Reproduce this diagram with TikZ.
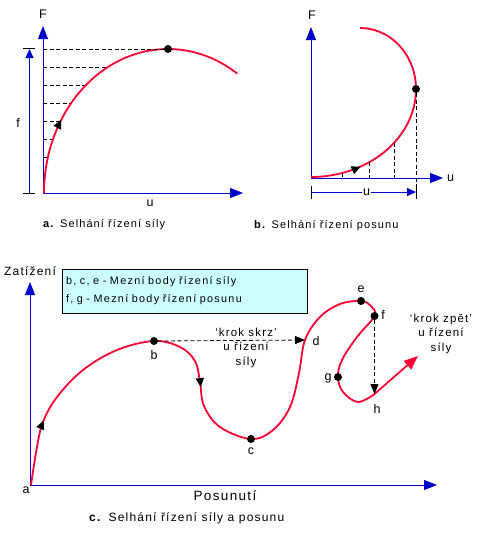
\documentclass[tikz,border=0pt]{standalone}
\usepackage{fontspec}
\setmainfont{Liberation Sans}
\newfontfamily\widefont{Liberation Sans}[LetterSpace=10]
\usetikzlibrary{arrows.meta,decorations.markings}
\definecolor{axisblue}{RGB}{0,0,204}
\definecolor{curvered}{RGB}{255,0,51}
\definecolor{boxcyan}{RGB}{204,255,255}
\begin{document}
\begin{tikzpicture}[
  x = 1pt,
  y = -1pt,
  axis/.style = {draw = axisblue, line width = 1pt, -{Triangle[length = 13pt, width = 10pt]}},
  dimline/.style = {draw = axisblue, line width = 1pt, -{Triangle[length = 9pt, width = 8pt]}},
  curve/.style = {draw = curvered, line width = 1.8pt},
  guide/.style = {line width = 0.8pt, dash pattern = on 4pt off 2.5pt},
  tick/.style = {line width = 0.8pt},
  tip/.style = {-{Triangle[length = 10pt, width = 8pt]}},
  midtip/.style = {postaction = {decorate, decoration = {markings,
      mark = at position #1 with {\arrow{Triangle[length = 9pt, width = 8pt, color = black]}}}}},
  dot/.style = {circle, fill = black, inner sep = 0pt, minimum size = 8pt},
  lbl/.style = {font = \fontsize{12.5}{14}\selectfont, inner sep = 1pt},
  caption/.style = {font = \fontsize{11}{13}\selectfont\widefont, inner sep = 0pt, anchor = west},
  note/.style = {font = \fontsize{11.5}{14.5}\selectfont\widefont, align = center, inner sep = 0pt},
  legend/.style = {draw, line width = 0.8pt, fill = boxcyan, minimum width = 245pt, minimum height = 44pt,
      text width = 237pt, align = left, inner sep = 0pt, font = \fontsize{10.8}{18}\selectfont\addfontfeature{LetterSpace=12}}
]
  \useasboundingbox (0,0) rectangle (486,539);

  % a. force control
  \coordinate (oa) at (43,193);
  \coordinate (Fa) at (43,26);
  \coordinate (ua) at (243,193);
  \draw[axis] (oa) -- (Fa);
  \draw[axis] (oa) -- (ua);
  \node[lbl] (Fa lbl) at (43,14) {F};
  \node[lbl] (ua lbl) at (150,203) {u};
  \coordinate (fbot) at (29.5,193);
  \coordinate (ftop) at (29.5,49);
  \draw[dimline] (fbot) -- (ftop);
  \draw[tick] (23,193) -- (35,193);
  \draw[tick] (23,48) -- (35,48);
  \node[lbl] (f lbl) at (18,123) {f};
  \foreach \yy in {67,85,103,121,139,157}
    \draw[guide] (43,\yy) -- ({168-124*cos(asin((193-\yy)/144))},\yy);
  \draw[curve, midtip = 76pt] plot[domain = 180:56, samples = 80] ({168+124*cos(\x)},{193-144*sin(\x)});
  \node[dot] (peak) at (168,49) {};
  \draw[guide] (43,49) -- (peak);
  \node[caption] (capa) at (43,225) {\textbf{a.} Selhání řízení síly};

  % b. displacement control
  \coordinate (ob) at (311,178);
  \coordinate (Fb) at (311,27);
  \coordinate (ub) at (443,178);
  \draw[axis] (ob) -- (Fb);
  \draw[axis] (ob) -- (ub);
  \node[lbl] (Fb lbl) at (312,15) {F};
  \node[lbl, anchor = west] (ub lbl) at (446,178) {u};
  \draw[curve, midtip = 51pt]
    plot[domain = 0:90, samples = 50] ({311+105*sin(\x)},{89+88*cos(\x)})
    -- plot[domain = 0:90, samples = 40] ({360+56*cos(\x)},{89-61*sin(\x)});
  \node[dot] (limb) at (416,89) {};
  \foreach \xx in {342,369,394}
    \draw[guide] (\xx,{89+88*sqrt(1-((\xx-311)/105)^2)}) -- (\xx,178);
  \draw[guide] (limb) -- (416,186);
  \draw[tick] (416,186) -- (416,199);
  \draw[tick] (311,186) -- (311,199);
  \coordinate (dimb) at (311,192);
  \coordinate (dime) at (416,192);
  \draw[dimline] (dimb) -- node[fill = white, inner xsep = 5pt, inner ysep = 0pt, lbl, pos = 0.53] (ud lbl) {u} (dime);
  \node[caption] (capb) at (254,226) {\textbf{b.} Selhání řízení posunu};

  % c. force and displacement control
  \coordinate (oc) at (30,485);
  \coordinate (Fc) at (30,282);
  \coordinate (uc) at (437,485);
  \draw[axis] (oc) -- (Fc);
  \draw[axis] (oc) -- (uc);
  \node[font = \fontsize{12}{14}\selectfont\widefont, inner sep = 0pt] (load) at (30,271) {Zatížení};
  \node[font = \fontsize{13.5}{16}\selectfont\widefont, inner sep = 0pt] (disp) at (225,496) {Posunutí};
  \node[legend] (legend) at (184.5,291) {b, c, e - Mezní body řízení síly\\f, g - Mezní body řízení posunu};

  \coordinate (a) at (31,485);
  \coordinate (b) at (154,341);
  \coordinate (c) at (251,439);
  \coordinate (d) at (305,340);
  \coordinate (e) at (361,301);
  \coordinate (f) at (374.5,316);
  \coordinate (g) at (338,377);
  \coordinate (h) at (374.5,394);
  \coordinate (zpet) at (418,356);
  \draw[curve, midtip = 66pt, midtip = 283pt] plot[smooth, tension = 0.6] coordinates {
    (a) (37,447) (43,422) (57,397) (83,370) (117,350) (b) (180,347) (195,361)
    (200,382) (204,406) (220,427) (c) (273,430) (290,407) (299,373) (d)
    (320,317) (340,304) (e) (371,306) (f) (357,337) (342,360) (g) (343,392)
    (358,402) (h)};
  \draw[curve, -{Triangle[length = 14pt, width = 11pt]}] (h) -- (zpet);
  \foreach \pt in {b,c,e,f,g}
    \node[dot] at (\pt) {};
  \draw[guide, tip] (158,341) -- (d);
  \draw[guide, tip] (374.5,320) -- (h);
  \node[lbl] (a lbl) at (26,490) {a};
  \node[lbl] (b lbl) at (154,355) {b};
  \node[lbl] (c lbl) at (251,451) {c};
  \node[lbl] (d lbl) at (316,341) {d};
  \node[lbl] (e lbl) at (361,289) {e};
  \node[lbl] (f lbl) at (383,315) {f};
  \node[lbl] (g lbl) at (328,378) {g};
  \node[lbl] (h lbl) at (377,409) {h};
  \node[note] (skrz) at (246,348) {‘krok skrz’\\u řízení\\síly};
  \node[note] (zpet lbl) at (441,334) {‘krok zpět’\\u řízení\\síly};
  \node[caption, font = \fontsize{12}{14}\selectfont\widefont] (capc) at (89,518) {\textbf{c.}\hspace{7pt}Selhání řízení síly a posunu};
\end{tikzpicture}
\end{document}
